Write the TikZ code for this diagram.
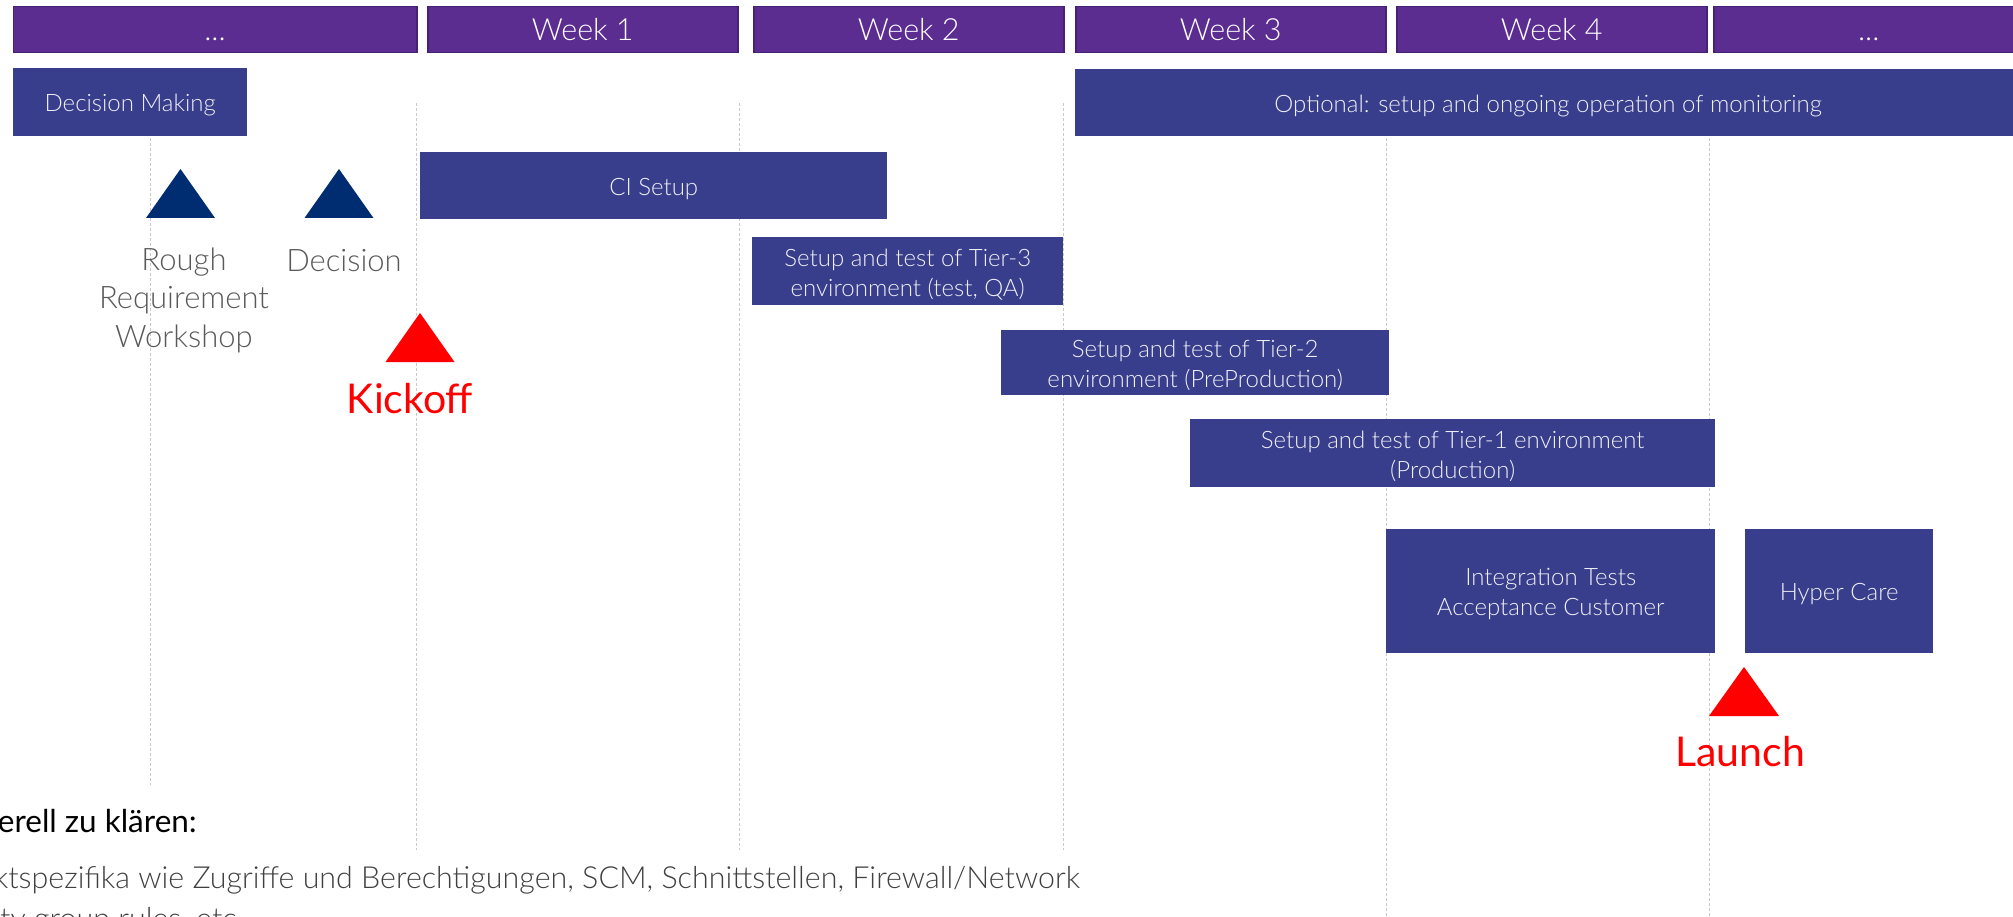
\documentclass[tikz,border=0pt]{standalone}
\usepackage{fontspec}
\IfFontExistsTF{Lato Light}{\setmainfont{Lato Light}}{\setmainfont{Lato}}
\newfontfamily\regfont{Lato}
\definecolor{hdr}{RGB}{92,45,145}
\definecolor{hdrline}{RGB}{70,33,118}
\definecolor{bar}{RGB}{56,61,140}
\definecolor{tri}{RGB}{0,45,114}
\definecolor{msred}{RGB}{255,0,0}
\definecolor{gridc}{RGB}{200,200,200}
\definecolor{mstext}{RGB}{89,89,89}
\definecolor{bartext}{RGB}{240,240,246}
\definecolor{bodytext}{RGB}{64,64,64}
\begin{document}
\begin{tikzpicture}[x=1pt,y=-1pt,
  hdrbox/.style={fill=hdr, draw=hdrline, line width=1.5pt, text=white, inner sep=0pt,
    minimum height=46pt, anchor=north west, text height=22pt, text depth=0pt,
    font=\fontsize{30.5}{36}\selectfont},
  barbox/.style={fill=bar, inner sep=0pt, anchor=north west},
  bartxt/.style={text=bartext, align=center, inner sep=0pt, font=\fontsize{24}{30}\selectfont},
  gridline/.style={draw=gridc, dash pattern=on 3pt off 2pt, line width=1pt},
  milestone/.style={text=mstext, align=center, inner sep=0pt, anchor=base,
    font=\fontsize{31}{38.5}\selectfont},
  redlabel/.style={text=msred, inner sep=0pt, anchor=base, font=\regfont\fontsize{41}{48}\selectfont},
  bluetri/.style={fill=tri},
  redtri/.style={fill=msred},
  bodyline/.style={inner sep=0pt, text=bodytext, font=\fontsize{30.4}{36}\selectfont},
]
\path[use as bounding box] (0,0) rectangle (2013,917);
\clip (0,0) rectangle (2013,917);

% grid lines
\draw[gridline] (150,103) -- (150,785);
\draw[gridline] (416.5,103) -- (416.5,850);
\draw[gridline] (739,103) -- (739,850);
\draw[gridline] (1063,103) -- (1063,850);
\draw[gridline] (1386,103) -- (1386,917);
\draw[gridline] (1709,103) -- (1709,917);

% week headers
\node[hdrbox, minimum width=403.5pt] (h0) at (12.5,6) {...};
\node[hdrbox, minimum width=310pt] (h1) at (427,6) {Week 1};
\node[hdrbox, minimum width=310pt] (h2) at (753,6) {Week 2};
\node[hdrbox, minimum width=310pt] (h3) at (1075,6) {Week 3};
\node[hdrbox, minimum width=310pt] (h4) at (1396,6) {Week 4};
\node[hdrbox, minimum width=310pt] (h5) at (1713,6) {...};

% bars
\node[barbox, minimum width=234pt, minimum height=68pt] (dm) at (13,68) {};
\node[bartxt] (dmt) at ([yshift=-3pt]dm.center) {Decision Making};
\node[barbox, minimum width=946pt, minimum height=67pt] (opt) at (1075,69) {};
\node[bartxt] (optt) at ([yshift=-3pt]opt.center) {Optional: setup and ongoing operation of monitoring};
\node[barbox, minimum width=467pt, minimum height=67pt] (ci) at (420,152) {};
\node[bartxt] (cit) at ([yshift=-3pt]ci.center) {CI Setup};
\node[barbox, minimum width=311pt, minimum height=68pt] (t3) at (752,237) {};
\node[bartxt] (t3t) at ([yshift=-3pt]t3.center) {Setup and test of Tier-3\\environment (test, QA)};
\node[barbox, minimum width=388pt, minimum height=65pt] (t2) at (1001,330) {};
\node[bartxt] (t2t) at ([yshift=-3pt]t2.center) {Setup and test of Tier-2\\environment (PreProduction)};
\node[barbox, minimum width=525pt, minimum height=68pt] (t1) at (1190,419) {};
\node[bartxt] (t1t) at ([yshift=-3pt]t1.center) {Setup and test of Tier-1 environment\\(Production)};
\node[barbox, minimum width=329pt, minimum height=124pt] (it) at (1386,529) {};
\node[bartxt] (itt) at ([yshift=-3pt]it.center) {Integration Tests\\Acceptance Customer};
\node[barbox, minimum width=188pt, minimum height=124pt] (hc) at (1745,529) {};
\node[bartxt] (hct) at ([yshift=-3pt]hc.center) {Hyper Care};

% milestones
\coordinate (m1) at (180.5,169);
\fill[bluetri] (m1) -- ++(34.5,49) -- ++(-69,0) -- cycle;
\coordinate (m2) at (339,169);
\fill[bluetri] (m2) -- ++(34.5,49) -- ++(-69,0) -- cycle;
\coordinate (m3) at (420,313);
\fill[redtri] (m3) -- ++(34.5,49) -- ++(-69,0) -- cycle;
\coordinate (m4) at (1744,667);
\fill[redtri] (m4) -- ++(35,49) -- ++(-70,0) -- cycle;

\node[milestone] (rrw) at (184,347) {Rough\\Requirement\\Workshop};
\node[milestone] (dec) at (344,272) {Decision};
\node[redlabel] (kick) at (410,413) {Kickoff};
\node[redlabel] (launch) at (1740,766) {Launch};

% bottom text
\node[bodyline, anchor=base east, text=black, font=\regfont\fontsize{31.5}{36}\selectfont] (gen) at (197,832) {erell zu kl\"aren:};
\node[bodyline, anchor=base east] (l1) at (1080,888) {ktspezifika wie Zugriffe und Berechtigungen, SCM, Schnittstellen, Firewall/Network};
\node[bodyline, anchor=base west] (l2) at (0,929) {ty group rules, etc.};
\end{tikzpicture}
\end{document}
